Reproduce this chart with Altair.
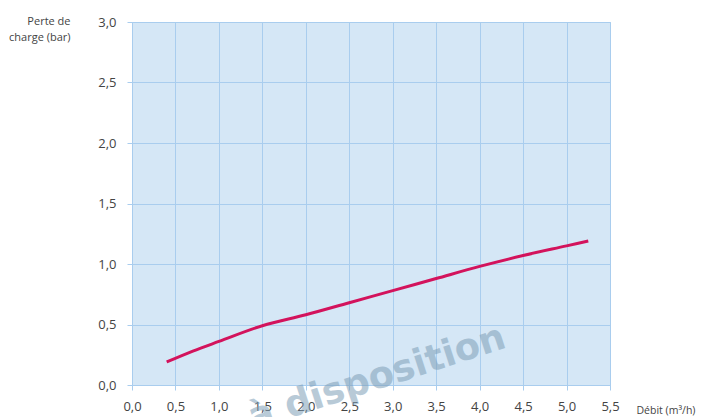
import altair as alt
import pandas as pd

# Data
debit = [0.4, 0.7, 1.0, 1.5, 2.0, 2.5, 3.0, 3.5, 4.0, 4.5, 5.0, 5.25]
perte = [0.19, 0.28, 0.36, 0.49, 0.58, 0.68, 0.78, 0.88, 0.98, 1.07, 1.15, 1.19]
x_ticks = [0.0, 0.5, 1.0, 1.5, 2.0, 2.5, 3.0, 3.5, 4.0, 4.5, 5.0, 5.5]
y_ticks = [0.0, 0.5, 1.0, 1.5, 2.0, 2.5, 3.0]
watermark = ["à disposition"]

df = pd.DataFrame({"debit": debit, "perte": perte})
wm = pd.DataFrame({"t": watermark})

FONT = "Open Sans"
GRID = "#a9cdee"
LBL = "#444444"
fmt = "replace(format(datum.value, '.1f'), '.', ',')"

line = alt.Chart(df).mark_line(color="#d3135c", strokeWidth=3, interpolate="monotone").encode(
    x=alt.X("debit:Q",
            scale=alt.Scale(domain=[0, 5.5], nice=False),
            axis=alt.Axis(values=x_ticks, labelExpr=fmt, grid=True, gridColor=GRID,
                          domain=False, tickColor=GRID, tickSize=5, labelPadding=10,
                          labelFlush=False,
                          labelFontSize=13, labelColor=LBL, labelFont=FONT,
                          title="Débit (m³/h)", titleFont=FONT, titleFontSize=10.5,
                          titleFontWeight="normal", titleColor=LBL, titleAlign="left",
                          titleX=504, titleY=28, titleBaseline="alphabetic")),
    y=alt.Y("perte:Q",
            scale=alt.Scale(domain=[0, 3.0], nice=False),
            axis=alt.Axis(values=y_ticks, labelExpr=fmt, grid=True, gridColor=GRID,
                          domain=False, tickColor=GRID, tickSize=5, labelPadding=11,
                          labelFlush=False,
                          labelFontSize=13, labelColor=LBL, labelFont=FONT,
                          title=["Perte de", "charge (bar)"], titleFont=FONT,
                          titleFontSize=11, titleFontWeight="normal", titleColor=LBL,
                          titleAngle=0, titleAlign="right", titleX=-62, titleY=2,
                          titleBaseline="alphabetic", titleLineHeight=16)),
)

mark = alt.Chart(wm).mark_text(
    font="DejaVu Sans", fontWeight="bold", fontSize=37, color="#7f9fb8",
    opacity=0.55, angle=342, align="center", baseline="middle", clip=False,
).encode(text="t:N", x=alt.value(245), y=alt.value(356))

chart = alt.layer(line, mark).properties(
    width=478, height=363,
    background="white",
    autosize=alt.AutoSizeParams(type="none"),
    padding={"left": 124, "top": 14, "right": 89, "bottom": 32},
).configure_view(fill="#d5e7f6", stroke=GRID, strokeWidth=1)

chart.save("out.html", embed_options={"renderer": "svg", "actions": False})
